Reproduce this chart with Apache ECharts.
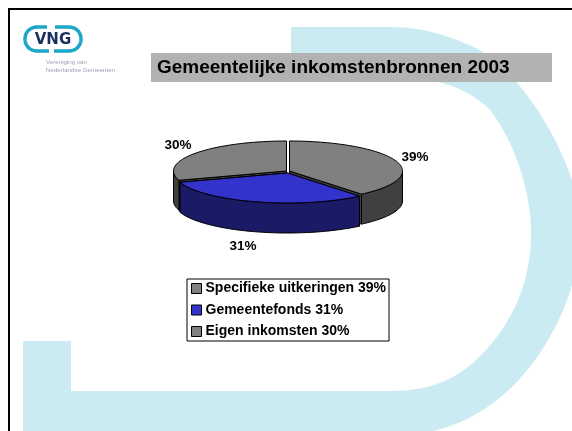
<!DOCTYPE html>
<html><head><meta charset="utf-8">
<style>html,body{margin:0;padding:0;background:#fff}#c{width:572px;height:431px}</style>
<script src="https://cdn.jsdelivr.net/npm/echarts@6/dist/echarts.min.js"></script>
</head><body><div id="c"></div>
<script>
const titleText = 'Gemeentelijke inkomstenbronnen 2003';
const categories = ['Specifieke uitkeringen', 'Gemeentefonds', 'Eigen inkomsten'];
const values = [39, 31, 30];
const topColors = ['#808080', '#3333cc', '#808080'];
const sideColors = ['#404040', '#1a1a66', '#404040'];
const font = '"Liberation Sans", Arial, sans-serif';

const legendNames = categories.map((c, i) => c + ' ' + values[i] + '%');
const total = values.reduce((a, b) => a + b, 0);
const PIE = {cx: 288, cy: 172, rx: 113, ry: 30, depth: 30};
const explode = [[1.5, -1], [-0.5, 1], [-1.5, -1]];
const labelAt = [[415, 157], [243, 246], [178, 145]];
const drawOrder = [2, 0, 1];

function pt(a, dx, dy, down) {
  const r = a * Math.PI / 180;
  return [PIE.cx + dx + PIE.rx * Math.sin(r), PIE.cy + dy + down - PIE.ry * Math.cos(r)];
}
function arc(a, b, dx, dy, down) {
  const out = [], n = Math.max(2, Math.ceil(Math.abs(b - a) / 2));
  for (let i = 0; i <= n; i++) out.push(pt(a + (b - a) * i / n, dx, dy, down));
  return out;
}
function renderSlice(i) {
  const start = values.slice(0, i).reduce((a, b) => a + b, 0) / total * 360;
  const end = start + values[i] / total * 360;
  const [dx, dy] = explode[i];
  const stroke = {stroke: '#000', lineWidth: 1, lineJoin: 'round'};
  const children = [];
  const apex = [PIE.cx + dx, PIE.cy + dy];
  const apexLow = [apex[0], apex[1] + PIE.depth];
  [start, end].forEach(a => {
    const e = pt(a, dx, dy, 0), l = pt(a, dx, dy, PIE.depth);
    children.push({type: 'polygon', shape: {points: [apex, e, l, apexLow]},
      style: Object.assign({fill: sideColors[i]}, stroke)});
  });
  const a = Math.max(start, 90), b = Math.min(end, 270);
  if (b > a) {
    children.push({type: 'polygon',
      shape: {points: arc(a, b, dx, dy, 0).concat(arc(b, a, dx, dy, PIE.depth))},
      style: Object.assign({fill: sideColors[i]}, stroke)});
  }
  children.push({type: 'polygon',
    shape: {points: [apex].concat(arc(start, end, dx, dy, 0))},
    style: Object.assign({fill: topColors[i]}, stroke)});
  children.push({type: 'text', x: labelAt[i][0], y: labelAt[i][1],
    style: {text: values[i] + '%', fill: '#000', font: 'bold 13.5px ' + font,
      textAlign: 'center', textVerticalAlign: 'middle'}});
  return {type: 'group', children};
}

// sample a list of line / cubic segments into points
function trace(segs) {
  const out = [];
  let p = null;
  segs.forEach(s => {
    if (s.length === 2) { out.push(s); p = s; return; }
    for (let k = 1; k <= 24; k++) {
      const t = k / 24, u = 1 - t;
      out.push([
        u*u*u*p[0] + 3*u*u*t*s[0] + 3*u*t*t*s[2] + t*t*t*s[4],
        u*u*u*p[1] + 3*u*u*t*s[1] + 3*u*t*t*s[3] + t*t*t*s[5]
      ]);
    }
    p = [s[4], s[5]];
  });
  return out;
}
const dShape = trace([[23,341],[71,341],[71,391],[390,391],
  [425,391,455,383,483,353],[510,325,531,285,531,233],
  [531,185,510,135,490,110],[475,95,455,85,433,81],[410,74,380,70,350,70],
  [291,70],[291,27],[390,27],
  [425,27,455,38,480,50],[520,75,555,130,572,180],[590,240,575,300,540,353],[515,390,480,420,433,431],
  [433,445],[23,445]]);
const logoLeft = trace([[47,27],[38,27],[30,27,25,32,25,39],[25,46,30,51,38,51],[49,51]]);
const logoRight = trace([[55,27],[68,27],[76,27,81,32,81,39],[81,46,76,51,68,51],[54,51]]);
const logoStroke = {fill: 'none', stroke: '#1ca6c8', lineWidth: 3.5};

const chart = echarts.init(document.getElementById('c'), null, {renderer: 'canvas'});
chart.setOption({
  animation: false,
  backgroundColor: '#fff',
  title: {text: titleText, left: 157, top: 57,
    textStyle: {fontFamily: font, fontWeight: 'bold', fontSize: 19, color: '#000', lineHeight: 21},
    padding: 0},
  legend: {
    orient: 'vertical', left: 187, top: 279,
    padding: [2, 3, 2, 4], itemWidth: 10, itemHeight: 10, itemGap: 6.5,
    selectedMode: false, icon: 'rect',
    backgroundColor: '#fff', borderColor: '#000', borderWidth: 1,
    data: legendNames,
    itemStyle: {borderColor: '#000', borderWidth: 1},
    textStyle: {fontFamily: font, fontWeight: 'bold', fontSize: 14, color: '#000',
      padding: [0, 0, 0, -1], lineHeight: 15}
  },
  graphic: [
    {type: 'polygon', z: -10, shape: {points: dShape}, style: {fill: '#cbebf3'}, silent: true},
    {type: 'rect', z: -9, shape: {x: 151, y: 53, width: 401, height: 29}, style: {fill: '#b2b2b2'}, silent: true},
    {type: 'rect', z: -8, shape: {x: 8, y: 8, width: 564, height: 2}, style: {fill: '#000'}, silent: true},
    {type: 'rect', z: -8, shape: {x: 8, y: 8, width: 2, height: 423}, style: {fill: '#000'}, silent: true},
    {type: 'polyline', z: -7, shape: {points: logoLeft}, style: logoStroke, silent: true},
    {type: 'polyline', z: -7, shape: {points: logoRight}, style: logoStroke, silent: true},
    {type: 'text', z: -7, x: 53, y: 40.5, style: {text: 'VNG', fill: '#1a2f5f', font: 'bold 15px "DejaVu Sans", sans-serif', textAlign: 'center', textVerticalAlign: 'middle'}, silent: true},
    {type: 'text', z: -7, x: 46, y: 62, style: {text: 'Vereniging van', fill: '#9aa2b0', font: '6.2px ' + font, textVerticalAlign: 'middle'}, silent: true},
    {type: 'text', z: -7, x: 46, y: 70, style: {text: 'Nederlandse Gemeenten', fill: '#9aa2b0', font: '6.2px ' + font, textVerticalAlign: 'middle'}, silent: true}
  ],
  series: categories.map((c, i) => ({
    type: 'custom', name: legendNames[i], coordinateSystem: 'none',
    z: 2 + drawOrder.indexOf(i), silent: true,
    itemStyle: {color: topColors[i]},
    data: [values[i]],
    renderItem: () => renderSlice(i)
  }))
});
</script></body></html>
